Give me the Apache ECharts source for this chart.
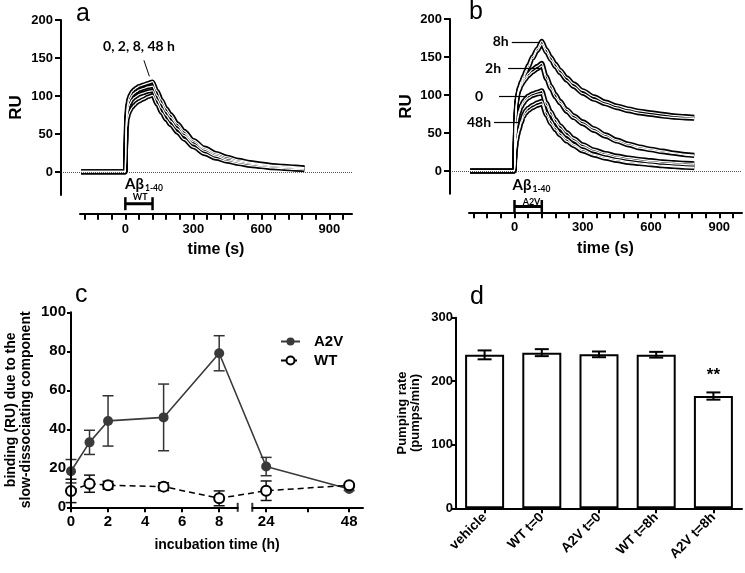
<!DOCTYPE html>
<html>
<head>
<meta charset="utf-8">
<title>Abeta binding and pumping rate</title>
<script src="https://cdn.jsdelivr.net/npm/echarts@6.0.0/dist/echarts.min.js"></script>
<style>
  html, body { margin: 0; padding: 0; background: #fff; }
  #main { width: 745px; height: 573px; }
</style>
</head>
<body>
<div id="main"></div>
<script>
// ---- data ----

// sensorgram sample times (s), shared by every trace
var TIMES = [-195, -100, -5, 0, 2, 5, 10, 15, 20, 30, 40, 50, 60, 80, 100, 120, 140, 160, 180, 200, 230, 260, 300, 350, 400, 450, 500, 550, 600, 650, 700, 750, 790];

// panel a: WT Abeta1-40 after 0, 2, 8, 48 h (RU)
var WT_0H  = [1, 1, 1, 1, 40, 75, 90, 97, 101, 106, 109, 111, 113, 115, 117, 119, 107, 95, 84, 76, 64, 54, 42, 32, 25, 20, 16, 13, 11, 9, 8, 7, 6];
var WT_2H  = [1, 1, 1, 1, 37, 71, 85, 92, 96, 101, 104, 106, 108, 110, 112, 113, 101, 90, 80, 72, 61, 51, 40, 30, 23, 18, 14.5, 12, 10, 8.5, 7, 6, 5.5];
var WT_8H  = [0, 0, 0, 0, 34, 66, 79, 86, 90, 95, 98, 100, 102, 104, 106, 107, 95, 84, 75, 67, 57, 48, 37, 27.5, 21, 16, 13, 10.5, 8.5, 7, 6, 5, 4.5];
var WT_48H = [0, 0, 0, 0, 30, 58, 70, 76, 80, 85, 88, 91, 93, 96, 99, 101, 89, 78, 69, 62, 52, 43, 33, 24, 18, 14, 11, 8.5, 7, 5.5, 4.5, 3.5, 3];

// panel b: A2V Abeta1-40, two replicates per incubation time (RU)
var A2V_8H    = [0, 0, 0, 0, 40, 75, 95, 104, 110, 118, 125, 132, 139, 151, 161, 171, 160, 150, 141, 133, 123, 115, 106, 98, 91, 86, 82, 79, 77, 75, 73, 72, 71];
var A2V_8H_R  = [0, 0, 0, 0, 38, 72, 92, 101, 107, 115, 122, 129, 136, 148, 158, 167, 156, 146, 137, 129, 119, 111, 102, 94, 88, 83, 79, 76, 74, 72, 70.5, 69.5, 69];
var A2V_2H    = [0, 0, 0, 0, 38, 72, 92, 102, 108, 115, 120, 124, 128, 134, 138, 142, 125, 112, 101, 92, 81, 73, 65, 56, 48, 41, 36, 32, 29, 26.5, 24, 22, 21];
var A2V_2H_R  = [0, 0, 0, 0, 36, 69, 89, 99, 105, 112, 117, 121, 125, 130, 134, 138, 121, 108, 97, 89, 78, 70, 62, 53, 45.5, 39, 34, 30, 27.5, 25, 23, 21, 20];
var A2V_0H    = [0, 0, 0, 0, 25, 48, 62, 72, 79, 87, 92, 96, 99, 102, 104, 106, 90, 78, 68, 60, 51, 43, 35, 28, 23.5, 20, 17.5, 15.5, 14, 12.5, 11.5, 10.5, 10];
var A2V_0H_R  = [0, 0, 0, 0, 23, 45, 59, 69, 76, 84, 89, 93, 96, 99, 101, 102, 86, 74, 64, 56, 47, 40, 32, 26, 21.5, 18, 15.5, 13.5, 12, 10.5, 9.5, 8.5, 8];
var A2V_48H   = [0, 0, 0, 0, 15, 30, 42, 50, 56, 66, 75, 80, 83, 87, 90, 92, 77, 66, 57, 50, 42, 35, 28, 22, 18, 15, 12.5, 10.5, 9, 7.5, 6.5, 5.5, 5];
var A2V_48H_R = [0, 0, 0, 0, 14, 28, 39, 47, 53, 63, 71, 76, 79, 83, 86, 88, 73, 62, 54, 47, 39, 33, 26, 20.5, 16.5, 13.5, 11, 9.5, 8, 6.5, 5.5, 4.5, 4];

var INJECTION = [0, 120];                 // injection window (s)
var T_RANGE = [-200, 1000];
var RU_RANGE = [-30, 200];
var TIME_TICKS = [-180, -120, -60, 0, 60, 120, 180, 240, 300, 360, 420, 480, 540, 600, 660, 720, 780, 840, 900, 960];
var TIME_LABELS = [0, 300, 600, 900];
var RU_TICKS = [0, 50, 100, 150, 200];

// panel b pointer labels: text, RU level, start / end time
var B_LABELS = ['8h', '2h', '0', '48h'];
var B_LEVELS = [170, 134.6, 97.7, 63.5];
var B_FROM = [-12, -28, -68, -90];
var B_TO = [112, 112, 54, 24];

// panel c: slow-dissociating binding (RU) vs incubation time (h)
var INCUB_H  = [0, 1, 2, 5, 8, 24, 48];
var A2V_MEAN = [18.5, 33.3, 44.3, 46.1, 79, 20.9, 9.4];
var A2V_ERR  = [6, 6.2, 12.9, 17.1, 9, 4.7, 0.8];
var WT_MEAN  = [8.4, 12.1, 11.3, 10.6, 4.6, 8.5, 11.3];
var WT_ERR   = [6, 4.4, 2, 2, 3.8, 5, 0.5];
var SEG_LEFT = [0, 9];
var SEG_RIGHT = [20, 52];
var INCUB_TICKS_L = [0, 2, 4, 6, 8];
var INCUB_TICKS_R = [24, 36, 48];
var INCUB_LABELS_R = [24, 48];

// panel d: pumping rate
var GROUPS = ['vehicle', 'WT t=0', 'A2V t=0', 'WT t=8h', 'A2V t=8h'];
var PUMP_MEAN = [241.5, 245, 242.3, 241.7, 176.7];
var PUMP_ERR = [7, 5.5, 4.5, 4.5, 5.7];
var PUMP_SIG = ['', '', '', '', '**'];

// ---- layout ----
var FONT = 'Liberation Sans';
var NOTE_FONT = 'Lato';
var BLACK = '#000';

var PANEL_A = { yAxisX: 61, axisLeft: 80, right: 352, top: 20, bottom: 195, xAxisY: 213.7, bracketY: 203.7, nameGap: 36 };
var PANEL_B = { yAxisX: 450, axisLeft: 469, right: 742, top: 19, bottom: 193.8, xAxisY: 212.3, bracketY: 206.5, nameGap: 35 };
var PANEL_D = { left: 456, top: 317.7, width: 286, height: 190.6 };

var C_LEFT = 71, C_TOP = 312.3, C_BOTTOM = 507.3, C_LBREAK = 237.7, C_RSTART = 252.3, C_RIGHT = 363;
var LSCALE = (C_LBREAK - C_LEFT) / (SEG_LEFT[1] - SEG_LEFT[0]);
var RSCALE = (C_RIGHT - C_RSTART) / (SEG_RIGHT[1] - SEG_RIGHT[0]);

// broken time axis: hours -> position on the panel c data axis
function brokenX(h) {
  if (h <= SEG_LEFT[1]) return h;
  return (C_RSTART - C_LEFT) / LSCALE + (h - SEG_RIGHT[0]) * RSCALE / LSCALE;
}

var grids = [], xAxes = [], yAxes = [], series = [], graphics = [];

function axisLine() { return { show: true, onZero: false, lineStyle: { color: BLACK, width: 2 } }; }
function ticks(len, values) {
  var t = { show: true, inside: false, length: len, lineStyle: { color: BLACK, width: 2 } };
  if (values) t.customValues = values;
  return t;
}
function labels(size, margin, values) {
  var l = { show: true, color: BLACK, fontWeight: 'bold', fontSize: size, margin: margin, fontFamily: FONT };
  if (values) l.customValues = values;
  return l;
}
function nameStyle(size) {
  return { color: BLACK, fontWeight: 'bold', fontSize: size, fontFamily: FONT };
}
function pairs(xs, ys) {
  return xs.map(function (x, i) { return [x, ys[i]]; });
}
function text(str, x, y, font, align) {
  graphics.push({
    type: 'text', x: x, y: y, silent: true,
    style: { text: str, font: font, fill: BLACK, align: align || 'left', verticalAlign: 'middle' }
  });
}
// vertical axis spine along a grid's left edge, drawn as a thin filled bar
function spine(x, top, bottom) {
  graphics.push({
    type: 'rect', silent: true, z: 100,
    shape: { x: x - 1, y: top, width: 2, height: bottom - top },
    style: { fill: BLACK }
  });
}

function errorBars(capHalf, color, width) {
  return function (params, api) {
    var x = api.value(0), m = api.value(1), e = api.value(2);
    var hi = api.coord([x, m + e]), lo = api.coord([x, m - e]);
    var st = { stroke: color, lineWidth: width, fill: null };
    return {
      type: 'group',
      children: [
        { type: 'line', shape: { x1: hi[0], y1: hi[1], x2: lo[0], y2: lo[1] }, style: st },
        { type: 'line', shape: { x1: hi[0] - capHalf, y1: hi[1], x2: hi[0] + capHalf, y2: hi[1] }, style: st },
        { type: 'line', shape: { x1: lo[0] - capHalf, y1: lo[1], x2: lo[0] + capHalf, y2: lo[1] }, style: st }
      ]
    };
  };
}

// one sensorgram panel: data grid (with y axis) + detached time axis below it
function sensorPanel(P, traces, pointerLine) {
  var n = grids.length;
  grids.push({ left: P.yAxisX, top: P.top, width: P.right - P.yAxisX, height: P.bottom - P.top, outerBoundsMode: 'none' });
  grids.push({ left: P.axisLeft, top: P.bottom + 1, width: P.right - P.axisLeft, height: P.xAxisY - P.bottom - 1, outerBoundsMode: 'none' });

  var sPerPx = (T_RANGE[1] - T_RANGE[0]) / (P.right - P.axisLeft);
  xAxes.push({ gridIndex: n, type: 'value', min: T_RANGE[0] - (P.axisLeft - P.yAxisX) * sPerPx, max: T_RANGE[1], show: false });
  yAxes.push({
    gridIndex: n, type: 'value', min: RU_RANGE[0], max: RU_RANGE[1],
    name: 'RU', nameLocation: 'middle', nameRotate: 90, nameGap: P.nameGap, nameTextStyle: nameStyle(17),
    axisLine: axisLine(), axisTick: ticks(6, RU_TICKS), axisLabel: labels(13, 8, RU_TICKS),
    splitLine: { show: false }
  });
  xAxes.push({
    gridIndex: n + 1, type: 'value', min: T_RANGE[0], max: T_RANGE[1], position: 'bottom',
    name: 'time (s)', nameLocation: 'middle', nameGap: 28, nameTextStyle: nameStyle(16),
    axisLine: axisLine(), axisTick: ticks(6, TIME_TICKS), axisLabel: labels(13, 9, TIME_LABELS),
    splitLine: { show: false }
  });
  yAxes.push({ gridIndex: n + 1, type: 'value', min: 0, max: 1, show: false });
  spine(P.yAxisX, P.top, P.bottom);

  // black measured traces first, white fitted lines on top
  traces.forEach(function (vals, k) {
    var s = {
      type: 'line', xAxisIndex: n, yAxisIndex: n, data: pairs(TIMES, vals),
      symbol: 'none', smooth: 0.3, smoothMonotone: 'x', silent: true, z: 2,
      lineStyle: { color: BLACK, width: 4.5 }
    };
    if (k === 0) {
      s.markLine = {
        silent: true, symbol: ['none', 'none'], label: { show: false },
        lineStyle: { type: 'dotted', color: '#555', width: 1 },
        data: [{ yAxis: 0 }]
      };
    }
    series.push(s);
  });
  traces.forEach(function (vals, k) {
    var s = {
      type: 'line', xAxisIndex: n, yAxisIndex: n, data: pairs(TIMES, vals),
      symbol: 'none', smooth: 0.3, smoothMonotone: 'x', silent: true, z: 3,
      lineStyle: { color: '#fff', width: 1.2 }
    };
    if (k === traces.length - 1 && pointerLine) s.markLine = pointerLine;
    series.push(s);
  });

  // injection bracket on the detached axis grid
  var level = (P.xAxisY - P.bracketY) / (P.xAxisY - P.bottom - 1);
  series.push({
    type: 'line', xAxisIndex: n + 1, yAxisIndex: n + 1,
    data: INJECTION.map(function (t) { return [t, level]; }),
    symbol: 'rect', symbolSize: [2.5, 13], showSymbol: true, clip: false, silent: true,
    lineStyle: { color: BLACK, width: 3 }, itemStyle: { color: BLACK }
  });
}

// ---- panel a ----
sensorPanel(PANEL_A, [WT_0H, WT_2H, WT_8H, WT_48H], {
  silent: true, symbol: ['none', 'none'], label: { show: false },
  lineStyle: { color: BLACK, width: 1, type: 'solid' },
  data: [[{ coord: [82, 147] }, { coord: [106, 126] }]]
});
text('a', 76, 14, '25px ' + FONT);
text('0, 2, 8, 48 h', 139, 46.7, 'bold 14px ' + NOTE_FONT, 'center');
text('A\u03b2', 125, 184, 'bold 15px ' + NOTE_FONT);
text('1-40', 145, 188, 'bold 8.5px ' + NOTE_FONT);
text('WT', 140.3, 197.5, 'bold 9px ' + NOTE_FONT, 'center');

// ---- panel b ----
sensorPanel(PANEL_B, [A2V_8H, A2V_8H_R, A2V_2H, A2V_2H_R, A2V_0H, A2V_0H_R, A2V_48H, A2V_48H_R], {
  silent: true, symbol: ['none', 'none'],
  lineStyle: { color: BLACK, width: 1.2, type: 'solid' },
  label: { show: true, position: 'start', formatter: '{b}', color: BLACK, fontWeight: 'bold', fontSize: 14, fontFamily: NOTE_FONT },
  data: B_LABELS.map(function (lab, i) {
    var gaps = [3, 7, 16, 3];
    return [
      { name: lab, coord: [B_FROM[i], B_LEVELS[i]], label: { distance: gaps[i] } },
      { coord: [B_TO[i], B_LEVELS[i]] }
    ];
  })
});
text('b', 469, 12.5, '25px ' + FONT);
text('A\u03b2', 512.5, 185, 'bold 15px ' + NOTE_FONT);
text('1-40', 532.5, 189, 'bold 8.5px ' + NOTE_FONT);
text('A2V', 531.5, 202, 'bold 9px ' + NOTE_FONT, 'center');

// ---- panel c (broken time axis) ----
var gc = grids.length;
grids.push({ left: C_LEFT, top: C_TOP, width: C_RIGHT - C_LEFT, height: C_BOTTOM - C_TOP, outerBoundsMode: 'none' });
grids.push({ left: C_LEFT, top: C_TOP, width: C_LBREAK - C_LEFT, height: C_BOTTOM - C_TOP, outerBoundsMode: 'none' });
grids.push({ left: C_RSTART, top: C_TOP, width: C_RIGHT - C_RSTART, height: C_BOTTOM - C_TOP, outerBoundsMode: 'none' });

xAxes.push({
  gridIndex: gc, type: 'value', min: 0, max: (C_RIGHT - C_LEFT) / LSCALE,
  name: 'incubation time (h)', nameLocation: 'middle', nameGap: 31, nameTextStyle: nameStyle(14),
  axisLine: { show: false }, axisTick: { show: false }, axisLabel: { show: false }, splitLine: { show: false }
});
yAxes.push({
  gridIndex: gc, type: 'value', min: 0, max: 100, interval: 20,
  name: 'binding (RU) due to the\nslow-dissociating component', nameLocation: 'middle', nameRotate: 90, nameGap: 37,
  nameTextStyle: { color: BLACK, fontWeight: 'bold', fontSize: 14, lineHeight: 15, fontFamily: FONT },
  axisLine: axisLine(), axisTick: ticks(4), axisLabel: labels(15, 5), splitLine: { show: false }
});
xAxes.push({
  gridIndex: gc + 1, type: 'value', min: SEG_LEFT[0], max: SEG_LEFT[1],
  axisLine: axisLine(), axisTick: ticks(5, INCUB_TICKS_L), axisLabel: labels(15, 7, INCUB_TICKS_L), splitLine: { show: false }
});
yAxes.push({ gridIndex: gc + 1, type: 'value', min: 0, max: 100, show: false });
xAxes.push({
  gridIndex: gc + 2, type: 'value', min: SEG_RIGHT[0], max: SEG_RIGHT[1],
  axisLine: axisLine(), axisTick: ticks(5, INCUB_TICKS_R), axisLabel: labels(15, 7, INCUB_LABELS_R), splitLine: { show: false }
});
yAxes.push({ gridIndex: gc + 2, type: 'value', min: 0, max: 100, show: false });
spine(C_LEFT, C_TOP, C_BOTTOM);

// break marks at the ends of the two axis segments
[[gc + 1, SEG_LEFT[1]], [gc + 2, SEG_RIGHT[0]]].forEach(function (b) {
  series.push({
    type: 'scatter', xAxisIndex: b[0], yAxisIndex: b[0], data: [[b[1], 0]],
    symbol: 'rect', symbolSize: [2, 9], clip: false, silent: true, itemStyle: { color: BLACK }
  });
});

series.push({
  type: 'custom', xAxisIndex: gc, yAxisIndex: gc, silent: true, z: 2,
  renderItem: errorBars(5.5, '#333', 1.5),
  data: INCUB_H.map(function (h, i) { return [brokenX(h), A2V_MEAN[i], A2V_ERR[i]]; })
});
series.push({
  type: 'custom', xAxisIndex: gc, yAxisIndex: gc, silent: true, z: 2,
  renderItem: errorBars(5.5, '#111', 1.5),
  data: INCUB_H.map(function (h, i) { return [brokenX(h), WT_MEAN[i], WT_ERR[i]]; })
});
var idxA2V = series.length;
series.push({
  name: 'A2V', type: 'line', xAxisIndex: gc, yAxisIndex: gc, z: 3,
  data: INCUB_H.map(function (h, i) { return [brokenX(h), A2V_MEAN[i]]; }),
  symbol: 'circle', symbolSize: 10,
  itemStyle: { color: '#3a3a3a' }, lineStyle: { color: '#3a3a3a', width: 1.6 }
});
var idxWT = series.length;
series.push({
  name: 'WT', type: 'line', xAxisIndex: gc, yAxisIndex: gc, z: 4,
  data: INCUB_H.map(function (h, i) { return [brokenX(h), WT_MEAN[i]]; }),
  symbol: 'emptyCircle', symbolSize: 10,
  itemStyle: { color: BLACK, borderWidth: 1.5 }, lineStyle: { color: BLACK, width: 1.5, type: [6, 4] }
});
text('c', 75, 295.5, '25px ' + FONT);

// gap where the lines cross the axis break
var GAP = [brokenX(SEG_LEFT[1]) + 2 / LSCALE, brokenX(SEG_RIGHT[0]) - 4 / LSCALE];

// ---- panel d ----
var gd = grids.length;
grids.push({ left: PANEL_D.left, top: PANEL_D.top, width: PANEL_D.width, height: PANEL_D.height, outerBoundsMode: 'none' });
xAxes.push({
  gridIndex: gd, type: 'category', data: GROUPS,
  axisLine: axisLine(), axisTick: { show: true, alignWithLabel: true, length: 5, lineStyle: { color: BLACK, width: 2 } },
  axisLabel: { show: true, interval: 0, rotate: 45, color: BLACK, fontWeight: 'bold', fontSize: 13.5, margin: 7, fontFamily: FONT },
  splitLine: { show: false }
});
yAxes.push({
  gridIndex: gd, type: 'value', min: 0, max: 300, interval: 100,
  name: 'Pumping rate\n(pumps/min)', nameLocation: 'middle', nameRotate: 90, nameGap: 34,
  nameTextStyle: { color: BLACK, fontWeight: 'bold', fontSize: 13, lineHeight: 13, fontFamily: FONT },
  axisLine: axisLine(), axisTick: ticks(5), axisLabel: labels(13, 3), splitLine: { show: false }
});
spine(PANEL_D.left, PANEL_D.top, PANEL_D.top + PANEL_D.height);
series.push({
  type: 'bar', xAxisIndex: gd, yAxisIndex: gd, barWidth: 39, silent: true, z: 2,
  itemStyle: { color: '#fff', borderColor: BLACK, borderWidth: 2 },
  data: PUMP_MEAN.map(function (v, i) {
    return {
      value: v,
      label: {
        show: PUMP_SIG[i] !== '', formatter: PUMP_SIG[i], position: 'top', distance: 12,
        color: BLACK, fontWeight: 'bold', fontSize: 17, fontFamily: FONT
      }
    };
  })
});
series.push({
  type: 'custom', xAxisIndex: gd, yAxisIndex: gd, silent: true, z: 3,
  renderItem: errorBars(7, BLACK, 2),
  data: GROUPS.map(function (g, i) { return [i, PUMP_MEAN[i], PUMP_ERR[i]]; })
});
text('d', 470, 297.5, '25px ' + FONT);

var chart = echarts.init(document.getElementById('main'));
chart.setOption({
  animation: false,
  backgroundColor: '#fff',
  textStyle: { fontFamily: FONT },
  grid: grids,
  xAxis: xAxes,
  yAxis: yAxes,
  legend: {
    left: 275, top: 329, orient: 'vertical', itemWidth: 19, itemHeight: 10, itemGap: 4,
    data: ['A2V', 'WT'], selectedMode: false,
    textStyle: { color: BLACK, fontWeight: 'bold', fontSize: 15, fontFamily: FONT, padding: [0, 0, 0, 9] }
  },
  visualMap: [
    {
      show: false, type: 'piecewise', seriesIndex: idxA2V, dimension: 0,
      pieces: [{ gt: GAP[0], lt: GAP[1], color: 'rgba(0,0,0,0)' }],
      outOfRange: { color: '#3a3a3a' }
    },
    {
      show: false, type: 'piecewise', seriesIndex: idxWT, dimension: 0,
      pieces: [{ gt: GAP[0], lt: GAP[1], color: 'rgba(0,0,0,0)' }],
      outOfRange: { color: BLACK }
    }
  ],
  graphic: graphics,
  series: series
});
</script>
</body>
</html>
